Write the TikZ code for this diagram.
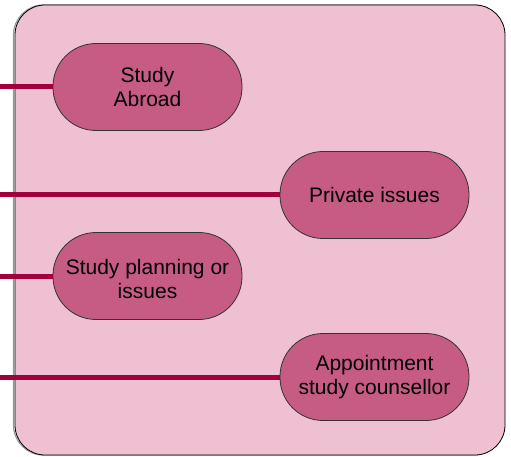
\documentclass[tikz,border=0pt]{standalone}
\usepackage{fontspec}
\setmainfont{Liberation Sans}
\begin{document}
\begin{tikzpicture}[x=1pt,y=-1pt,
  panel/.style={draw=black, line width=0.8pt, fill=panelpink, rounded corners=30pt},
  shade/.style={draw=gray!80, line width=1.2pt, rounded corners=30pt},
  topic/.style={draw=black!80, line width=0.8pt, fill=nodepink, rounded corners=43pt, minimum width=189pt, minimum height=87pt, inner sep=0pt},
  link/.style={draw=linkred, line width=5pt},
  lbl/.style={font=\fontsize{21}{23.5}\selectfont, align=center, text=black}
]
\definecolor{panelpink}{HTML}{EEC0D2}
\definecolor{nodepink}{HTML}{C65C84}
\definecolor{linkred}{HTML}{A0003C}
\useasboundingbox (0,0) rectangle (511,457);
% shadow + panel
\path[shade] (13.5,5) rectangle (503.5,455);
\path[panel] (15,5) rectangle (505,455);
% nodes
\node[topic] (sa) at (147.5,87) {};
\node[lbl] at (sa.center) {Study\\Abroad};
\node[topic] (pi) at (374.5,195) {};
\node[lbl] at (pi.center) {Private issues};
\node[topic] (sp) at (147.5,276) {};
\node[lbl] at ([yshift=-3pt]sp.center) {Study planning or\\issues};
\node[topic] (ap) at (374.5,377) {};
\node[lbl] at (ap.center) {Appointment\\study counsellor};
% connectors
\coordinate (c1) at (0,87);
\coordinate (c2) at (0,195);
\coordinate (c3) at (0,276);
\coordinate (c4) at (0,377);
\draw[link] (c1) -- (sa.west);
\draw[link] (c2) -- (pi.west);
\draw[link] (c3) -- (sp.west);
\draw[link] (c4) -- (ap.west);
\end{tikzpicture}
\end{document}
